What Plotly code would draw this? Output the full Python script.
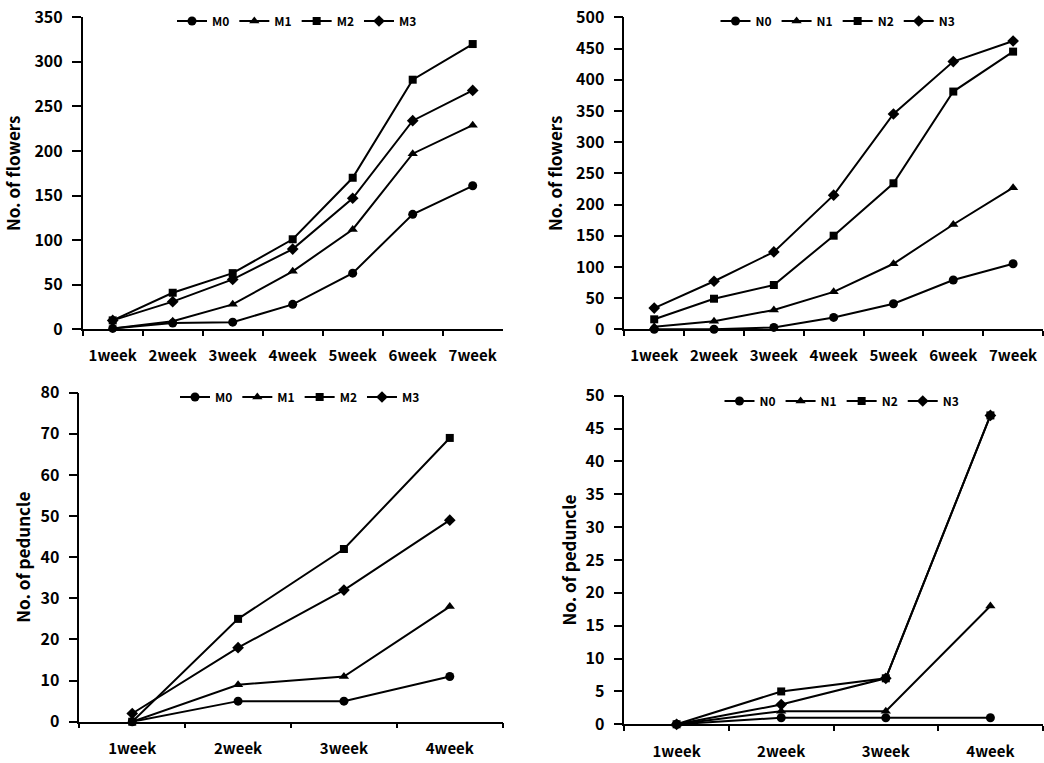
import plotly.graph_objects as go

weeks7 = ["1week", "2week", "3week", "4week", "5week", "6week", "7week"]
weeks4 = ["1week", "2week", "3week", "4week"]

# Top-left: No. of flowers, M treatments
m_names = ["M0", "M1", "M2", "M3"]
flowers_M0 = [1, 7, 8, 28, 63, 129, 161]
flowers_M1 = [1, 9, 28, 65, 112, 197, 229]
flowers_M2 = [10, 41, 63, 101, 170, 280, 320]
flowers_M3 = [10, 31, 56, 90, 147, 234, 268]

# Top-right: No. of flowers, N treatments
n_names = ["N0", "N1", "N2", "N3"]
flowers_N0 = [0, 0, 3, 19, 41, 79, 105]
flowers_N1 = [4, 13, 31, 60, 105, 168, 227]
flowers_N2 = [16, 49, 71, 150, 234, 381, 445]
flowers_N3 = [34, 77, 124, 215, 345, 429, 462]

# Bottom-left: No. of peduncle, M treatments
peduncle_M0 = [0, 5, 5, 11]
peduncle_M1 = [0, 9, 11, 28]
peduncle_M2 = [0, 25, 42, 69]
peduncle_M3 = [2, 18, 32, 49]

# Bottom-right: No. of peduncle, N treatments
peduncle_N0 = [0, 1, 1, 1]
peduncle_N1 = [0, 2, 2, 18]
peduncle_N2 = [0, 5, 7, 47]
peduncle_N3 = [0, 3, 7, 47]

symbols = ["circle", "triangle-up", "square", "diamond"]
sizes = [9, 9, 8, 9]

FONT = "Noto Sans CJK KR"

fig = go.Figure()

panels = [
    (weeks7, [flowers_M0, flowers_M1, flowers_M2, flowers_M3], m_names, "x", "y", "legend"),
    (weeks7, [flowers_N0, flowers_N1, flowers_N2, flowers_N3], n_names, "x2", "y2", "legend2"),
    (weeks4, [peduncle_M0, peduncle_M1, peduncle_M2, peduncle_M3], m_names, "x3", "y3", "legend3"),
    (weeks4, [peduncle_N0, peduncle_N1, peduncle_N2, peduncle_N3], n_names, "x4", "y4", "legend4"),
]

for cats, series, names, xa, ya, lg in panels:
    for i, (vals, nm) in enumerate(zip(series, names)):
        fig.add_trace(go.Scatter(
            x=cats, y=vals, name=nm, mode="lines+markers",
            line=dict(color="black", width=2),
            marker=dict(symbol=symbols[i], size=sizes[i], color="black"),
            xaxis=xa, yaxis=ya, legend=lg, cliponaxis=False,
        ))

W, H = 1044, 763

def dom_x(a, b):
    return [a / W, b / W]

def dom_y(top, bottom):
    return [1 - bottom / H, 1 - top / H]

xtickfont = dict(family=FONT, size=15, color="black", weight="bold")
ytickfont = dict(family=FONT, size=16, color="black", weight="bold")
titlefont = dict(family=FONT, size=17, color="black", weight="bold")

def xaxis(domain, anchor, ncat, standoff):
    return dict(
        domain=domain, anchor=anchor, type="category",
        range=[-0.5, ncat - 0.5], tickson="boundaries",
        ticks="outside", ticklen=5, tickwidth=1.5, tickcolor="black",
        showline=True, linecolor="black", linewidth=1.5,
        showgrid=False, zeroline=False, tickfont=xtickfont, tickangle=0,
        ticklabelstandoff=standoff, fixedrange=True, automargin=False,
    )

def yaxis(domain, anchor, rng, dtick, title, standoff):
    return dict(
        domain=domain, anchor=anchor, range=rng, dtick=dtick,
        ticks="outside", ticklen=9, tickwidth=1.5, tickcolor="black",
        showline=True, linecolor="black", linewidth=1.5,
        showgrid=False, zeroline=False, tickfont=ytickfont,
        ticklabelstandoff=6,
        title=dict(text=title, font=titlefont, standoff=standoff),
        fixedrange=True, automargin=False,
    )

fig.update_layout(
    width=W, height=H,
    margin=dict(l=0, r=0, t=0, b=0),
    paper_bgcolor="white", plot_bgcolor="white",
    showlegend=True,
    xaxis=xaxis(dom_x(82.7, 502.7), "y", 7, 12),
    yaxis=yaxis(dom_y(17.3, 329.3), "x", [0, 350], 50, "No. of flowers", 9),
    xaxis2=xaxis(dom_x(624.3, 1043), "y2", 7, 12),
    yaxis2=yaxis(dom_y(17.3, 329.3), "x2", [0, 500], 50, "No. of flowers", 9),
    xaxis3=xaxis(dom_x(79.3, 502.7), "y3", 4, 13),
    yaxis3=yaxis(dom_y(392.7, 721.7), "x3", [0, 80], 10, "No. of peduncle", 5),
    xaxis4=xaxis(dom_x(624.3, 1042.7), "y4", 4, 13),
    yaxis4=yaxis(dom_y(395.7, 724.3), "x4", [0, 50], 5, "No. of peduncle", 5),
)

legend_common = dict(
    orientation="h", xanchor="center", yanchor="middle",
    font=dict(family=FONT, size=12, color="black", weight="bold"),
    bgcolor="rgba(0,0,0,0)", itemwidth=30, tracegroupgap=0,
)
fig.update_layout(
    legend=dict(x=297 / W, y=1 - 21 / H, **legend_common),
    legend2=dict(x=838 / W, y=1 - 21 / H, **legend_common),
    legend3=dict(x=300 / W, y=1 - 397 / H, **legend_common),
    legend4=dict(x=842 / W, y=1 - 401 / H, **legend_common),
)

fig.write_html(
    "out.html",
    config={"displayModeBar": False},
    post_script="document.body.style.margin='0px';document.body.style.overflow='hidden';",
)
